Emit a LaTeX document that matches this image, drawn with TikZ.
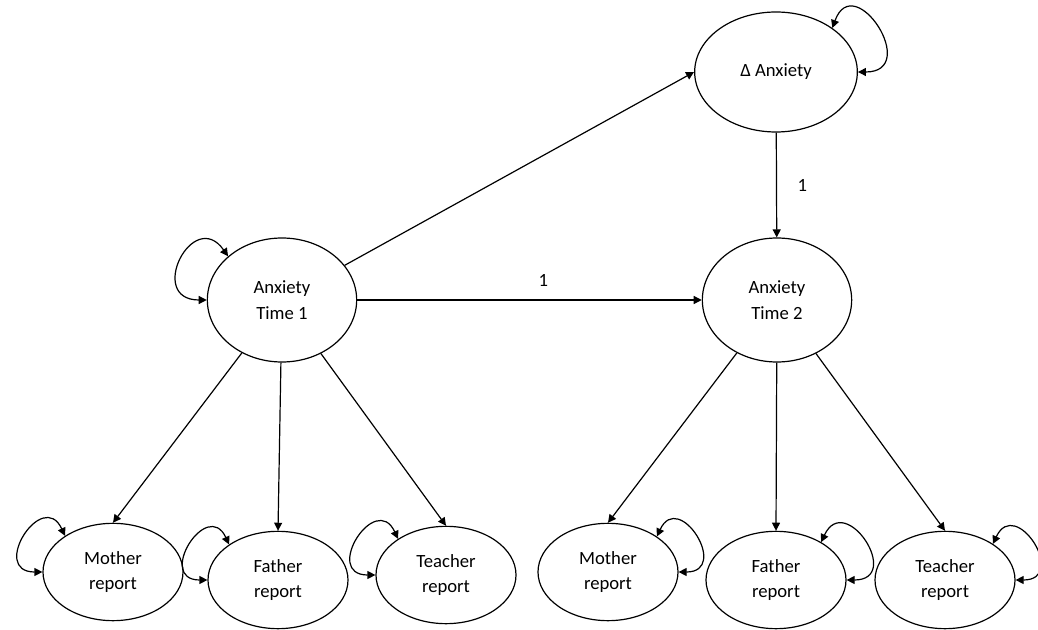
\documentclass[tikz,border=0pt]{standalone}
\usepackage{fontspec}
\setmainfont{Carlito}
\usetikzlibrary{arrows.meta, shapes.geometric}

\begin{document}
\begin{tikzpicture}[x=0.75pt, y=-0.75pt,
  >={Triangle[length=6pt, width=6pt]},
  font=\fontsize{14}{19}\selectfont,
  latent/.style={ellipse, draw, line width=0.9pt, inner sep=0pt, minimum width=112pt,
                 minimum height=93pt, align=center},
  indicator/.style={latent, minimum width=105pt, minimum height=73pt},
  arrow/.style={->, line width=0.9pt},
  resid/.style={<->, line width=0.9pt, looseness=3.2}]

  \useasboundingbox (0,0) rectangle (1038,630);

  \node[latent, minimum width=122pt, minimum height=90pt] (DA) at (776,72) {Δ Anxiety};
  \node[latent] (T1) at (282,300) {Anxiety\\Time 1};
  \node[latent] (T2) at (777,300) {Anxiety\\Time 2};

  \node[indicator] (M1) at (113,572) {Mother\\report};
  \node[indicator] (F1) at (278,580) {Father\\report};
  \node[indicator] (R1) at (446,575) {Teacher\\report};
  \node[indicator] (M2) at (608,572) {Mother\\report};
  \node[indicator] (F2) at (776,580) {Father\\report};
  \node[indicator] (R2) at (945,580) {Teacher\\report};

  \draw[arrow] (T1) -- (DA.west);
  \draw[arrow] (DA) -- node[right=12pt] {1} (T2);
  \draw[arrow] (T1) -- node[pos=0.54, above=6pt] {1} (T2);

  \draw[arrow] (T1) -- (M1.north);
  \draw[arrow] (T1) -- (F1.north);
  \draw[arrow] (T1) -- (R1.north);
  \draw[arrow] (T2) -- (M2.north);
  \draw[arrow] (T2) -- (F2.north);
  \draw[arrow] (T2) -- (R2.north);

  % variances
  \draw[resid] (DA.38) to[out=70, in=0] (DA.east);
  \draw[resid] (T1.141) to[out=125, in=180] (T1.west);
  \draw[resid] (M1.143) to[out=115, in=180] (M1.west);
  \draw[resid] (F1.144) to[out=115, in=180] (F1.west);
  \draw[resid] (R1.143) to[out=115, in=180] (R1.west);
  \draw[resid] (M2.36) to[out=65, in=0] (M2.east);
  \draw[resid] (F2.40) to[out=65, in=0] (F2.east);
  \draw[resid] (R2.37) to[out=65, in=0] (R2.east);
\end{tikzpicture}
\end{document}
